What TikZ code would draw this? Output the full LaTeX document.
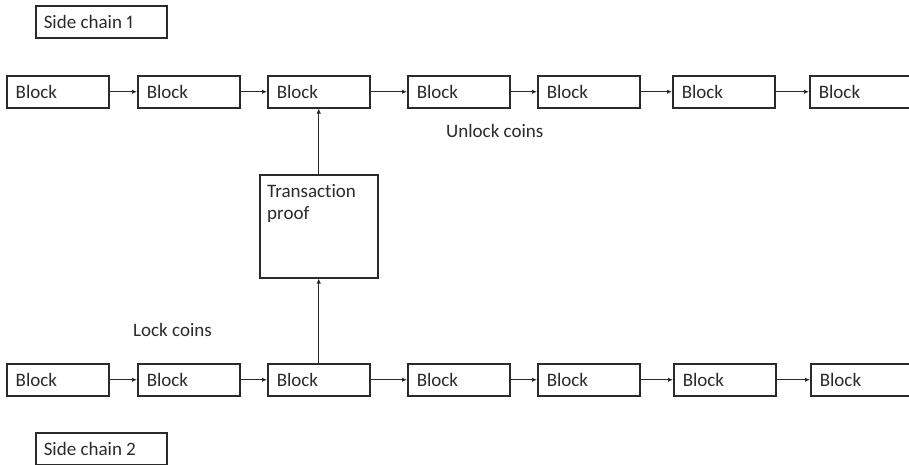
\documentclass[tikz,border=0pt]{standalone}
\usepackage{fontspec}
\setmainfont[Ligatures=NoCommon, Numbers=Proportional]{Carlito}
\usetikzlibrary{arrows.meta}
\definecolor{ink}{HTML}{2a2a2a}
\newcommand{\leftin}[2]{\makebox[#1][l]{#2}}
\tikzset{
  txt/.style={font=\fontsize{19}{22.5}\selectfont, text=ink},
  blockbox/.style={txt, draw=ink, line width=1.5pt, rectangle, anchor=north west,
    minimum height=32pt, text width=84pt, inner xsep=9pt, inner ysep=0pt, align=left},
  chainbox/.style={txt, draw=ink, line width=1.5pt, rectangle, anchor=north west,
    minimum height=32pt, inner xsep=8pt, inner ysep=0pt},
  link/.style={draw=ink, line width=1.2pt, -{Latex[length=5pt,width=4.5pt]}},
  note/.style={txt, anchor=west, inner sep=0pt}
}
\begin{document}
\begin{tikzpicture}[x=1pt,y=-1pt]
\useasboundingbox (0,0) rectangle (909,464);
\clip (0,0) rectangle (909,464);

% chain labels
\node[chainbox] (sc1) at (35,5) {\leftin{115pt}{Side chain 1}};
\node[chainbox] (sc2) at (35,432) {\leftin{115pt}{Side chain 2}};

% upper chain
\foreach \i/\x in {1/6,2/137,3/267,4/407,5/537,6/672,7/809}
  \node[blockbox] (t\i) at (\x,75) {Block};
% lower chain
\foreach \i/\x in {1/6,2/137,3/267,4/407,5/537,6/673,7/810}
  \node[blockbox] (b\i) at (\x,363) {Block};

\foreach \i/\j in {1/2,2/3,3/4,4/5,5/6,6/7}{
  \draw[link] (t\i.east) -- (t\j.west);
  \draw[link] (b\i.east) -- (b\j.west);
}

% transaction proof
\node[draw=ink, line width=1.5pt, rectangle, minimum width=118pt, minimum height=103pt,
  inner sep=0pt, anchor=north west] (tp) at (259,174) {};
\node[txt, anchor=north west, align=left, inner xsep=8pt, inner ysep=10pt] (tptext)
  at (tp.north west) {Transaction\\proof};

\draw[link] (b3.north) -- (tp.south);
\draw[link] (tp.north) -- (t3.south);

% annotations
\node[note] (unlock) at (446,131) {Unlock coins};
\node[note] (lock) at (133,330) {Lock coins};
\end{tikzpicture}
\end{document}
